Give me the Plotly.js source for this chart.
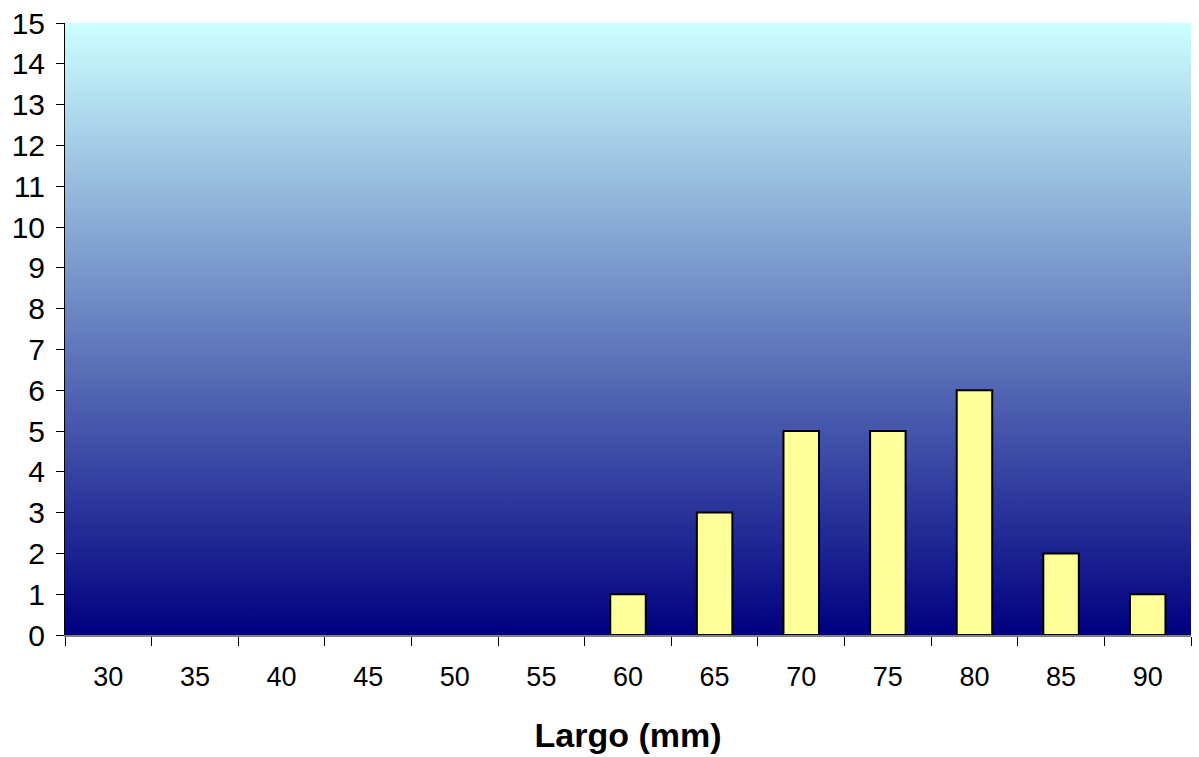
<!DOCTYPE html>
<html>
<head>
<meta charset="utf-8">
<script src="https://cdn.plot.ly/plotly-3.0.1.min.js"></script>
<style>html,body{margin:0;padding:0;background:#fff;}#chart{width:1199px;height:757px;}</style>
</head>
<body>
<div id="chart"></div>
<script>
const categories = ["30","35","40","45","50","55","60","65","70","75","80","85","90"];
const counts = [0,0,0,0,0,0,1,3,5,5,6,2,1];
const yTicks = [0,1,2,3,4,5,6,7,8,9,10,11,12,13,14,15];
const xTitle = "Largo (mm)";

const grad = 'data:image/svg+xml;charset=utf-8,' + encodeURIComponent(
 '<svg xmlns="http://www.w3.org/2000/svg" width="100" height="100" preserveAspectRatio="none">' +
 '<defs><linearGradient id="g" x1="0" y1="0" x2="0" y2="1">' +
 '<stop offset="0" stop-color="#CCFFFF"/><stop offset="1" stop-color="#000080"/>' +
 '</linearGradient></defs><rect width="100" height="100" fill="url(#g)"/></svg>');

const trace = {
  type: 'bar',
  x: categories,
  y: counts,
  marker: {color: '#FFFF99', line: {color: '#000000', width: counts.map(v => v > 0 ? 2 : 0)}},
  hoverinfo: 'x+y'
};

const FONT = 'Liberation Sans, Arial, sans-serif';
const layout = {
  width: 1199, height: 757,
  margin: {l: 65, r: 8, t: 23, b: 122},
  paper_bgcolor: '#ffffff',
  plot_bgcolor: 'rgba(0,0,0,0)',
  bargap: 0.59,
  showlegend: false,
  font: {family: FONT, color: '#000'},
  images: [{
    source: grad, xref: 'paper', yref: 'paper', x: 0, y: 1,
    sizex: 1, sizey: 1, sizing: 'stretch', xanchor: 'left', yanchor: 'top', layer: 'below'
  }],
  xaxis: {
    type: 'category',
    categoryorder: 'array', categoryarray: categories,
    tickson: 'boundaries',
    ticks: 'outside', ticklen: 9, tickwidth: 1, tickcolor: '#000',
    showline: true, linecolor: '#808080', linewidth: 2,
    showgrid: false, zeroline: false,
    tickfont: {size: 27, family: FONT},
    ticklabelstandoff: 17,
    title: {text: xTitle, font: {size: 34, family: FONT, weight: 'bold'}, standoff: 32}
  },
  yaxis: {
    range: [0, 15],
    tickvals: yTicks,
    ticks: 'outside', ticklen: 8, tickwidth: 1, tickcolor: '#000',
    showline: true, linecolor: '#000', linewidth: 1,
    showgrid: false, zeroline: false,
    tickfont: {size: 30, family: FONT},
    ticklabelstandoff: 5
  }
};

Plotly.newPlot('chart', [trace], layout, {displayModeBar: false, staticPlot: true});
</script>
</body>
</html>
